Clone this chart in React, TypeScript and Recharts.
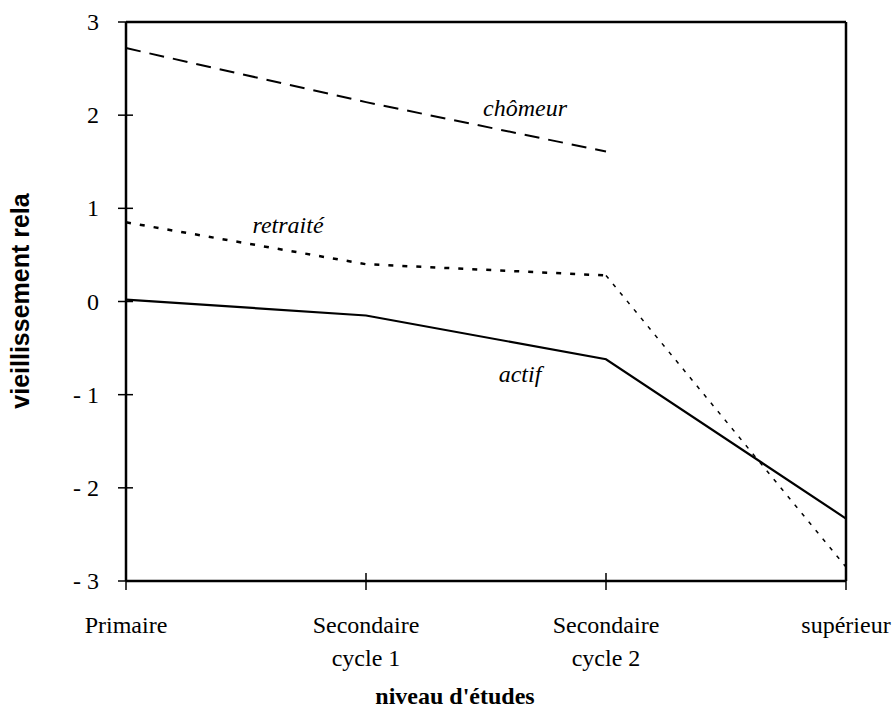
import React from 'react';
import { LineChart, Line, XAxis, YAxis, ReferenceLine, Label } from 'recharts';

const LEVELS = ['Primaire', 'Secondaire\ncycle 1', 'Secondaire\ncycle 2', 'supérieur'];
const CHOMEUR = [2.72, 2.14, 1.61, null];
const RETRAITE = [0.85, 0.4, 0.28, null];
const RETRAITE_SUP = [null, null, 0.28, -2.85];
const ACTIF = [0.02, -0.15, -0.62, -2.33];
const Y_TICKS = [-3, -2, -1, 0, 1, 2, 3];

const data = LEVELS.map((name, i) => ({
  name,
  chomeur: CHOMEUR[i],
  retraite: RETRAITE[i],
  retraiteSup: RETRAITE_SUP[i],
  actif: ACTIF[i],
}));

const SERIF = '"Liberation Serif", "Times New Roman", serif';
const FS = 24;
const AXIS_X = 126;
const AXIS_Y = 581;

const YTick = (props: any) => {
  const { y, payload } = props;
  const v = payload.value;
  const txt = v < 0 ? `- ${Math.abs(v)}` : `${v}`;
  return (
    <g>
      <line x1={AXIS_X - 8} x2={AXIS_X + 7} y1={y} y2={y} stroke="#000" strokeWidth={1.5} />
      <text x={99} y={y + 8} textAnchor="end" fontFamily={SERIF} fontSize={FS} fill="#000">{txt}</text>
    </g>
  );
};

const XTick = (props: any) => {
  const { x, payload } = props;
  const lines = String(payload.value).split('\n');
  return (
    <g>
      <line x1={x} x2={x} y1={AXIS_Y - 8} y2={AXIS_Y + 9} stroke="#000" strokeWidth={1.5} />
      {lines.map((l, i) => (
        <text key={i} x={x} y={633 + i * 33} textAnchor="middle" fontFamily={SERIF} fontSize={FS} fill="#000">{l}</text>
      ))}
    </g>
  );
};

const Annot = ({ x, y, text }: { x: number; y: number; text: string }) => (
  <text x={x} y={y} textAnchor="middle" fontFamily={SERIF} fontStyle="italic" fontSize={FS} fill="#000">{text}</text>
);

export default function App() {
  return (
    <div style={{ position: 'absolute', left: 0, top: 0, width: 896, height: 711, background: '#fff' }}>
      <LineChart width={896} height={711} data={data} margin={{ top: 22, right: 50, bottom: 0, left: 0 }}>
        <XAxis
          dataKey="name"
          height={130}
          axisLine={{ stroke: '#000', strokeWidth: 2.5 }}
          tickLine={false}
          tick={<XTick />}
          interval={0}
        >
          <Label
            content={() => (
              <text x={455} y={704} textAnchor="middle" fontFamily={SERIF} fontWeight="bold" fontSize={FS} fill="#000">
                niveau d'études
              </text>
            )}
          />
        </XAxis>
        <YAxis
          width={126}
          domain={[-3, 3]}
          ticks={Y_TICKS}
          axisLine={{ stroke: '#000', strokeWidth: 2.5 }}
          tickLine={false}
          tick={<YTick />}
          interval={0}
        >
          <Label
            content={() => (
              <text
                x={29}
                y={301}
                transform="rotate(-90 29 301)"
                textAnchor="middle"
                fontFamily='"Liberation Sans", Arial, sans-serif'
                fontWeight="bold"
                fontSize={25}
                fill="#000"
              >
                vieillissement rela
              </text>
            )}
          />
        </YAxis>
        <ReferenceLine y={3} stroke="#000" strokeWidth={2.5} />
        <ReferenceLine x="supérieur" stroke="#000" strokeWidth={2.5} />
        <Line dataKey="chomeur" stroke="#000" strokeWidth={2} strokeDasharray="15 9" dot={false} isAnimationActive={false} />
        <Line dataKey="retraite" stroke="#000" strokeWidth={2.5} strokeDasharray="5 9" dot={false} isAnimationActive={false} />
        <Line dataKey="retraiteSup" stroke="#000" strokeWidth={1.5} strokeDasharray="4 7" dot={false} isAnimationActive={false} />
        <Line dataKey="actif" stroke="#000" strokeWidth={2.2} dot={false} isAnimationActive={false} />
      </LineChart>
      <svg width={896} height={711} style={{ position: 'absolute', left: 0, top: 0, pointerEvents: 'none' }}>
        <Annot x={525} y={116} text="chômeur" />
        <Annot x={288} y={233} text="retraité" />
        <Annot x={520} y={382} text="actif" />
      </svg>
    </div>
  );
}
